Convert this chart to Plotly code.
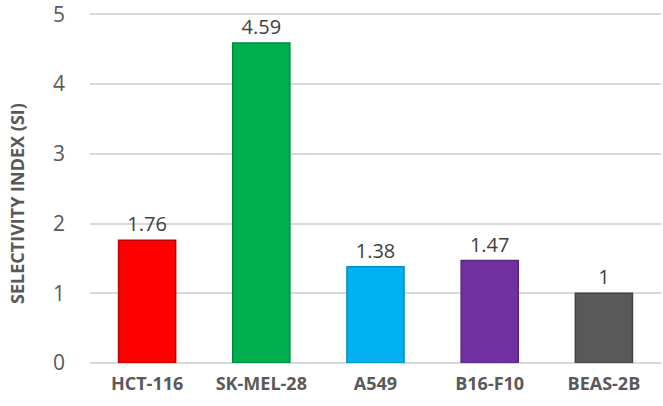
import plotly.graph_objects as go

cells = ['HCT-116', 'SK-MEL-28', 'A549', 'B16-F10', 'BEAS-2B']
si_values = [1.76, 4.59, 1.38, 1.47, 1]
si_labels = ['1.76', '4.59', '1.38', '1.47', '1']
bar_colors = ['#FF0000', '#00B050', '#00B0F0', '#7030A0', '#595959']
edge_colors = ['#C00000', '#008A3E', '#0090C8', '#582680', '#404040']

fig = go.Figure()

fig.add_trace(go.Bar(x=cells,
                     y=si_values,
                     text=si_labels,
                     textposition='outside',
                     textfont=dict(family='Open Sans', size=20, color='#404040'),
                     cliponaxis=False,
                     width=0.5,
                     marker=dict(color=bar_colors,
                                 line=dict(color=edge_colors, width=1.5)),
                     showlegend=False))

fig.update_layout(
    width=663, height=406,
    margin=dict(l=90, r=2, t=13, b=43, autoexpand=False),
    plot_bgcolor='white',
    paper_bgcolor='white',
    font=dict(family='Open Sans', color='#595959'))

# axis title sits a bit below the plot middle in the original, so place it by hand
fig.add_annotation(text='<b>SELECTIVITY INDEX (SI)</b>',
                   xref='paper', yref='paper',
                   x=-0.128, y=0.457,
                   xanchor='center', yanchor='middle',
                   textangle=-90,
                   showarrow=False,
                   font=dict(size=18, color='#595959'))

fig.update_yaxes(range=[0, 5.02],
                 tickvals=[0, 1, 2, 3, 4, 5],
                 ticktext=['0', '1', '2', '3', '4', '5'],
                 ticklabeloverflow='allow',
                 automargin=False,
                 showgrid=True,
                 gridcolor='#D9D9D9',
                 gridwidth=1.5,
                 zeroline=True,
                 zerolinecolor='#D9D9D9',
                 zerolinewidth=1.5,
                 tickfont=dict(size=21, color='#595959'),
                 ticklabelstandoff=24)

fig.update_xaxes(showline=False,
                 automargin=False,
                 tickfont=dict(size=18, color='#595959', weight='bold'),
                 ticklabelstandoff=8)

# page body has a default 8px margin, drop it so the figure sits at 0,0
fig.write_html('out.html', config={'displayModeBar': False},
               post_script="document.body.style.margin='0';")
